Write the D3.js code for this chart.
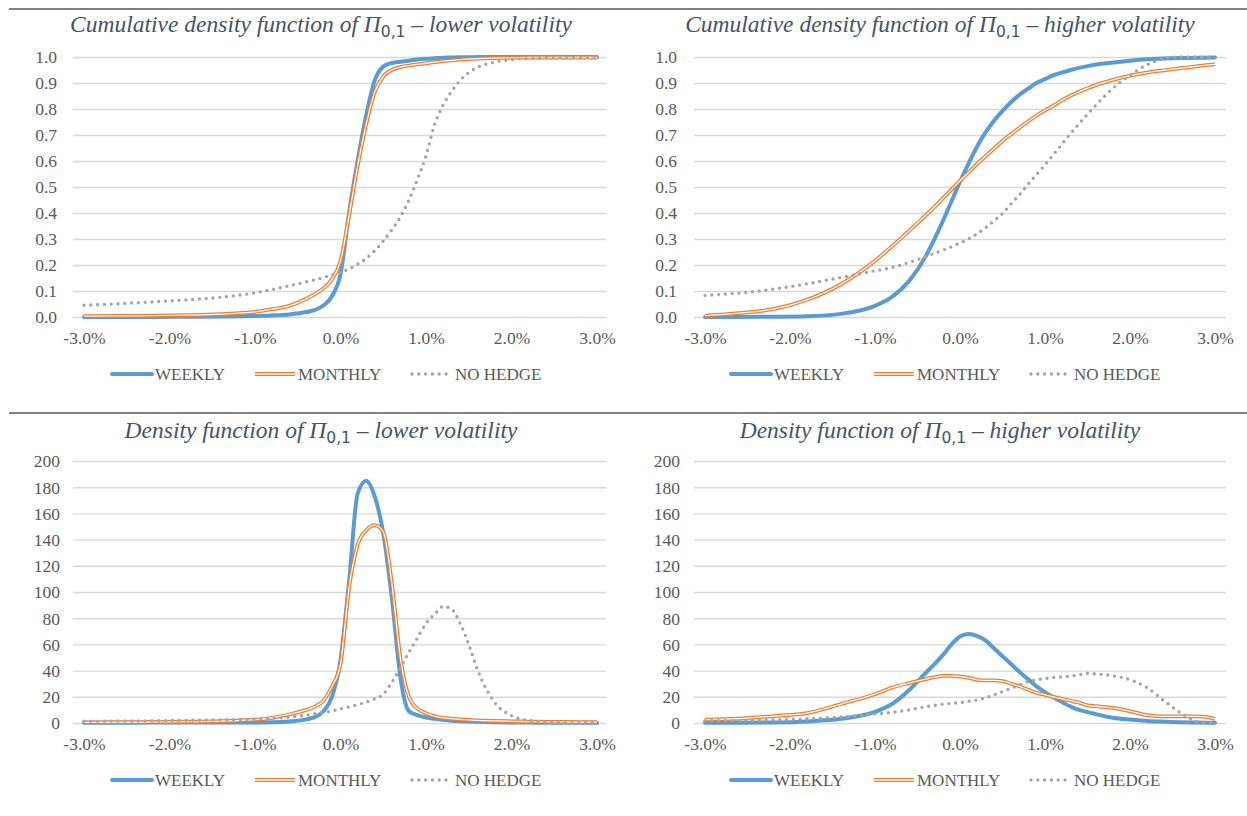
<!DOCTYPE html>
<html><head><meta charset="utf-8">
<script src="https://cdn.jsdelivr.net/npm/d3@7"></script>
<style>body{margin:0;background:#fff}svg{display:block}</style>
</head><body><svg id="c" width="1247" height="816"></svg>
<script>
// ---------- DATA ----------
const xValues = [-3.0,-2.6,-2.2,-1.8,-1.4,-1.0,-0.8,-0.6,-0.4,-0.3,-0.2,-0.1,0.0,0.1,0.2,0.3,0.4,0.5,0.6,0.7,0.8,0.9,1.0,1.1,1.2,1.3,1.4,1.5,1.6,1.8,2.0,2.2,2.4,2.6,2.8,3.0];

// CDF, lower volatility
const cdfLowWeekly  = [0.000,0.000,0.000,0.001,0.002,0.004,0.006,0.010,0.019,0.027,0.044,0.080,0.165,0.400,0.600,0.775,0.910,0.963,0.977,0.982,0.986,0.990,0.993,0.995,0.997,0.998,0.999,0.999,1.000,1.000,1.000,1.000,1.000,1.000,1.000,1.000];
const cdfLowMonthly = [0.003,0.004,0.005,0.007,0.011,0.020,0.030,0.043,0.070,0.088,0.110,0.145,0.215,0.390,0.580,0.740,0.865,0.925,0.950,0.961,0.967,0.972,0.976,0.980,0.984,0.987,0.990,0.992,0.994,0.996,0.997,0.998,0.998,0.998,0.998,0.998];
const cdfLowNoHedge = [0.045,0.051,0.058,0.066,0.076,0.093,0.106,0.120,0.135,0.143,0.152,0.162,0.172,0.185,0.203,0.225,0.255,0.292,0.335,0.385,0.450,0.530,0.620,0.740,0.815,0.868,0.910,0.940,0.960,0.980,0.990,0.995,0.997,0.998,0.999,1.000];

// CDF, higher volatility
const cdfHighWeekly  = [0.000,0.000,0.001,0.003,0.012,0.043,0.077,0.138,0.235,0.300,0.370,0.445,0.520,0.590,0.655,0.710,0.755,0.793,0.826,0.855,0.878,0.900,0.915,0.930,0.940,0.950,0.958,0.965,0.971,0.979,0.986,0.991,0.994,0.996,0.997,0.998];
const cdfHighMonthly = [0.005,0.015,0.030,0.066,0.126,0.216,0.272,0.331,0.392,0.423,0.457,0.490,0.524,0.556,0.588,0.618,0.648,0.677,0.703,0.728,0.752,0.775,0.795,0.813,0.833,0.851,0.866,0.880,0.892,0.912,0.928,0.940,0.949,0.957,0.965,0.972];
const cdfHighNoHedge = [0.083,0.092,0.107,0.128,0.152,0.178,0.190,0.210,0.232,0.245,0.257,0.270,0.285,0.300,0.320,0.343,0.370,0.398,0.435,0.470,0.510,0.548,0.585,0.625,0.665,0.705,0.743,0.780,0.815,0.880,0.930,0.970,0.993,1.000,1.000,1.000];

// Density, lower volatility
const denLowWeekly  = [0.2,0.2,0.3,0.3,0.3,0.3,0.5,1.2,2.8,4.5,9,20,48,108,175,185,173,145,96,35,9,6,4.2,3.2,2.5,1.8,1.4,1.1,0.9,0.6,0.4,0.3,0.2,0.2,0.2,0.1];
const denLowMonthly = [0.5,0.6,0.8,1.0,1.5,2.5,4,6.5,10,12.5,17,28,45,103,136,147,151,146,107,50,20,11,7.5,5.3,4,3.4,2.8,2.4,2.0,1.6,1.3,1.1,0.9,0.8,0.7,0.6];
const denLowNoHedge = [1.3,1.5,1.7,2.0,2.4,3.0,3.6,4.5,6,7,8,9.2,10.8,12.3,14,16,18.5,22,31,42,54,65,76,83,89,87,76,60,41,16,5.5,2,0.7,0.3,0.2,0.1];

// Density, higher volatility
const denHighWeekly  = [0.2,0.2,0.4,1.2,3.2,8.5,14.5,25,38.5,45,52,60,66,68,66.5,63,57,51,45,39,33.5,28,23.5,19.5,16,12.5,10,8.3,6.8,4,2.6,1.6,1.0,0.5,0.3,0.2];
const denHighMonthly = [2.5,3.3,5.2,7.5,14.5,22,27,30.5,33.5,35,36,36,35.5,34.5,33,32.5,32.5,32,30,28,25.5,23,21.5,20,18.5,17,15.5,13.5,12.8,11.5,9,6,5,5,5,3.2];
const denHighNoHedge = [1.8,1.8,2.3,3.2,4.6,6.8,8.2,10,12.5,13.5,14.3,15,15.5,16.5,17.5,19.3,21.5,24,26.5,29,31.5,33,34,34.8,35.2,35.8,36.8,38,37.5,36,33,27,17,7.5,1,0];

const xTickValues = [-3,-2,-1,0,1,2,3];
const cdfTickValues = [0,0.1,0.2,0.3,0.4,0.5,0.6,0.7,0.8,0.9,1.0];
const denTickValues = [0,20,40,60,80,100,120,140,160,180,200];
const seriesNames = ["WEEKLY","MONTHLY","NO HEDGE"];
const titleHeads = ["Cumulative density function of ","Cumulative density function of ","Density function of ","Density function of "];
const titleTails = [" \u2013 lower volatility"," \u2013 higher volatility"," \u2013 lower volatility"," \u2013 higher volatility"];

// ---------- DRAW ----------
const svg = d3.select("#c");
const SERIF = "Liberation Serif, Times New Roman, serif";
const colors = {weekly:"#5b9bd5", monthly:"#ed7d31", nohedge:"#a5a5a5"};

[9,413].forEach(y=>{
  svg.append("line").attr("x1",9).attr("x2",1247).attr("y1",y).attr("y2",y)
    .attr("stroke","#808080").attr("stroke-width",2.2);
});

const panels = [
  {left:84,right:597,gl:73,gr:606,top:57,bottom:317,dom:[0,1],ticks:cdfTickValues,fmt:d3.format(".1f"),ylx:57,tcx:321,ty:32,xly:344,legL:112,legY:374,
   series:[cdfLowWeekly,cdfLowMonthly,cdfLowNoHedge],ti:0},
  {left:705,right:1215,gl:694,gr:1226,top:57,bottom:317,dom:[0,1],ticks:cdfTickValues,fmt:d3.format(".1f"),ylx:677,tcx:940,ty:32,xly:344,legL:731,legY:374,
   series:[cdfHighWeekly,cdfHighMonthly,cdfHighNoHedge],ti:1},
  {left:84,right:597,gl:73,gr:606,top:461,bottom:723,dom:[0,200],ticks:denTickValues,fmt:d3.format("d"),ylx:60,tcx:321,ty:438,xly:750,legL:112,legY:780,
   series:[denLowWeekly,denLowMonthly,denLowNoHedge],ti:2},
  {left:705,right:1215,gl:694,gr:1226,top:461,bottom:723,dom:[0,200],ticks:denTickValues,fmt:d3.format("d"),ylx:680,tcx:940,ty:438,xly:750,legL:731,legY:780,
   series:[denHighWeekly,denHighMonthly,denHighNoHedge],ti:3},
];

function drawSeries(g, pathD, kind){
  if(kind===0){
    g.append("path").attr("d",pathD).attr("fill","none").attr("stroke",colors.weekly)
      .attr("stroke-width",4).attr("stroke-linejoin","round").attr("stroke-linecap","round");
  } else if(kind===1){
    g.append("path").attr("d",pathD).attr("fill","none").attr("stroke",colors.monthly)
      .attr("stroke-width",3.8).attr("stroke-linejoin","round");
    g.append("path").attr("d",pathD).attr("fill","none").attr("stroke","#fff")
      .attr("stroke-width",1.3).attr("stroke-linejoin","round");
  } else {
    g.append("path").attr("d",pathD).attr("fill","none").attr("stroke",colors.nohedge)
      .attr("stroke-width",3.4).attr("stroke-linecap","round").attr("stroke-dasharray","0 6.8");
  }
}

const pct = d => d3.format(".1f")(d).replace("\u2212","-")+"%";

panels.forEach(p=>{
  const x = d3.scaleLinear().domain([-3,3]).range([p.left,p.right]);
  const y = d3.scaleLinear().domain(p.dom).range([p.bottom,p.top]);
  const g = svg.append("g");

  const grid = g.append("g").attr("transform",`translate(${p.gl},0)`)
    .call(d3.axisLeft(y).tickValues(p.ticks).tickSize(-(p.gr-p.gl)).tickFormat(""));
  grid.select(".domain").remove();
  grid.selectAll("line").attr("stroke","#d9d9d9").attr("stroke-width",1.4);

  const ya = g.append("g").attr("transform",`translate(${p.ylx},0)`)
    .attr("font-family",SERIF).attr("font-size",17.5)
    .call(d3.axisLeft(y).tickValues(p.ticks).tickSize(0).tickPadding(0).tickFormat(p.fmt));
  ya.attr("font-family",SERIF).attr("font-size",17.5);
  ya.select(".domain").remove();
  ya.selectAll("text").style("font-family",SERIF).style("font-size","17.5px").attr("fill","#595959").attr("dy","0.34em");

  const xa = g.append("g").attr("transform",`translate(0,${p.xly})`)
    .call(d3.axisBottom(x).tickValues(xTickValues).tickSize(0).tickPadding(0).tickFormat(pct));
  xa.attr("font-family",SERIF).attr("font-size",17.5);
  xa.select(".domain").remove();
  xa.selectAll("text").style("font-family",SERIF).style("font-size","17.5px").attr("fill","#595959").attr("dy","0");

  const line = d3.line().x((d,i)=>x(xValues[i])).y(d=>y(d)).curve(d3.curveMonotoneX);
  p.series.forEach((s,k)=>drawSeries(g, line(s), k));

  const t = g.append("text").attr("x",p.tcx).attr("y",p.ty).attr("text-anchor","middle")
    .style("font-family",SERIF).style("font-size","23.5px").style("font-style","italic").attr("fill","#44546a");
  t.append("tspan").text(titleHeads[p.ti]+"\u03a0");
  t.append("tspan").style("font-style","normal").style("font-family","DejaVu Sans, sans-serif").style("font-size","15.5px").attr("dy","5").text("0,1");
  t.append("tspan").attr("dy","-5").text(titleTails[p.ti]);

  const offs = [[0,43],[143,186],[300,343]];
  seriesNames.forEach((name,k)=>{
    const lx = p.legL+offs[k][0];
    const dPath = d3.line()([[lx,p.legY],[lx+40,p.legY]]);
    drawSeries(g, dPath, k);
    g.append("text").attr("x",p.legL+offs[k][1]).attr("y",p.legY).attr("dy","0.35em")
      .style("font-family",SERIF).style("font-size","17px").attr("fill","#595959").text(name);
  });
});
</script></body></html>
